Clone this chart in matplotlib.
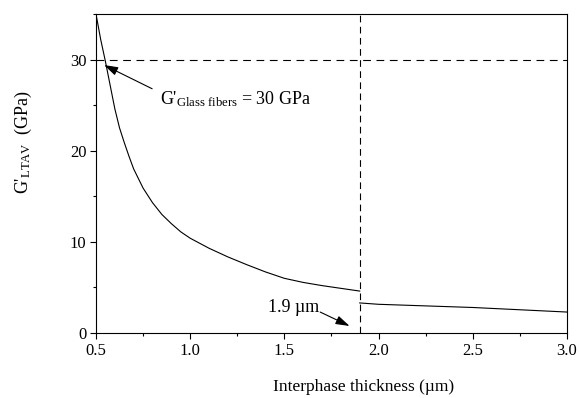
import matplotlib
matplotlib.use("Agg")
import matplotlib.pyplot as plt
from matplotlib.ticker import MultipleLocator

plt.rcParams['font.family'] = ['Liberation Serif', 'DejaVu Serif']
plt.rcParams['mathtext.fontset'] = 'custom'
plt.rcParams['mathtext.rm'] = 'Liberation Serif'
plt.rcParams['mathtext.it'] = 'Liberation Serif:italic'

# curve before the 1.9 um break
thick_a = [0.5, 0.525, 0.55, 0.575, 0.6, 0.625, 0.65, 0.675, 0.7, 0.75, 0.8,
           0.85, 0.9, 0.95, 1.0, 1.1, 1.2, 1.3, 1.4, 1.5, 1.6, 1.7, 1.8, 1.9]
glt_a = [35.0, 32.2, 29.8, 27.2, 24.6, 22.5, 20.9, 19.4, 18.0, 15.9, 14.3,
         13.0, 12.0, 11.1, 10.4, 9.3, 8.35, 7.5, 6.7, 6.0, 5.55, 5.2, 4.9, 4.6]
# curve after the break
thick_b = [1.9, 2.0, 2.5, 3.0]
glt_b = [3.3, 3.15, 2.8, 2.3]

g_fibers = 30
t_break = 1.9

fig = plt.figure(figsize=(5.8, 3.98), dpi=100)
ax = fig.add_axes([0.1655, 0.1633, 0.812, 0.8015])

ax.plot(thick_a, glt_a, color='black', lw=0.8)
ax.plot(thick_b, glt_b, color='black', lw=0.8)
ax.axhline(g_fibers, color='black', lw=0.8, dashes=(7, 5))
ax.axvline(t_break, color='black', lw=0.8, dashes=(6, 4))

ax.set_xlim(0.5, 3.0)
ax.set_ylim(0, 35)
ax.set_xticks([0.5, 1.0, 1.5, 2.0, 2.5, 3.0])
ax.set_xticklabels(['0.5', '1.0', '1.5', '2.0', '2.5', '3.0'])
ax.set_yticks([0, 10, 20, 30])
ax.xaxis.set_minor_locator(MultipleLocator(0.25))
ax.yaxis.set_minor_locator(MultipleLocator(5))
ax.tick_params(which='major', direction='out', length=4, width=0.8, labelsize=12, pad=3)
ax.tick_params(which='minor', direction='out', length=2, width=0.8)
for s in ax.spines.values():
    s.set_linewidth(0.8)

arrow = dict(arrowstyle='-|>,head_length=0.7,head_width=0.22', color='black', lw=0.8,
             mutation_scale=12, shrinkA=0, shrinkB=0)
ax.annotate("", xy=(0.543, 29.4), xytext=(0.798, 26.8), arrowprops=arrow)
ax.text(0.84, 25.7, r"G$'_{\mathrm{Glass\ fibers}}$ = 30 GPa", fontsize=13, va='center', ha='left')
ax.annotate("", xy=(1.846, 0.77), xytext=(1.69, 2.3), arrowprops=arrow)
ax.text(1.548, 2.75, "1.9 µm", fontsize=13, va='center', ha='center')

fig.text(0.627, 0.018, "Interphase thickness (µm)", fontsize=12.5, ha='center', va='baseline')
fig.text(0.04, 0.644, r"G$'_{\mathrm{LTAV}}$  (GPa)", fontsize=13, rotation=90,
         ha='center', va='center')

plt.savefig("out.png", dpi=100)
